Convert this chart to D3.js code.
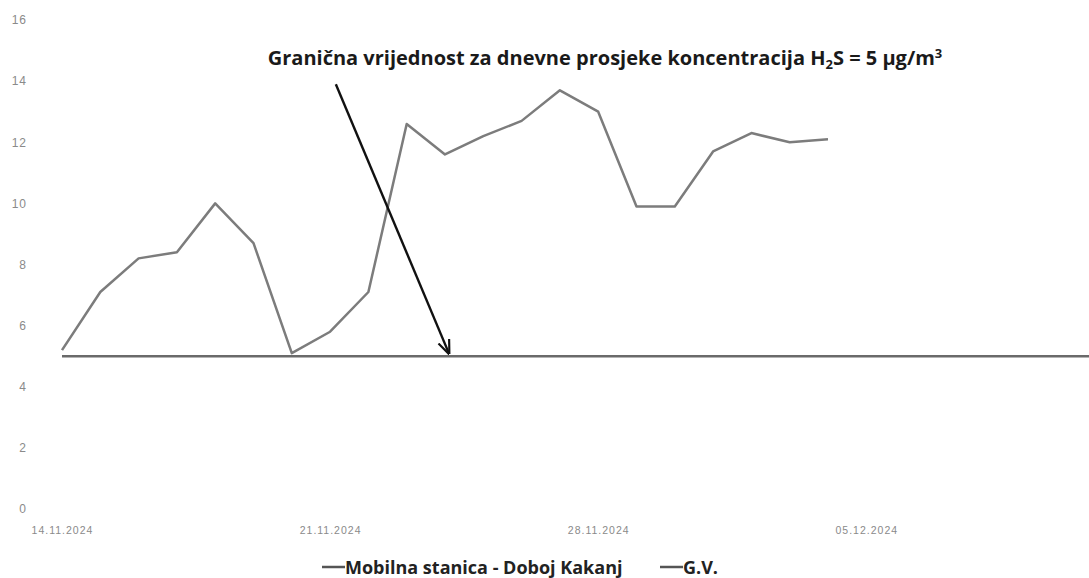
<!DOCTYPE html>
<html>
<head>
<meta charset="utf-8">
<script src="https://cdn.jsdelivr.net/npm/d3@7"></script>
<style>
  body { margin: 0; background: #fff; }
  svg { display: block; }
  .tick text { font-family: "Liberation Sans", sans-serif; fill: #8a8a8a; letter-spacing: 1px; }
  .y-axis .tick text { font-size: 12px; }
  .x-axis .tick text { font-size: 10.5px; }
</style>
</head>
<body>
<svg width="1089" height="578"></svg>
<script>
// daily H2S averages, Mobilna stanica - Doboj Kakanj, 14.11.2024 - 04.12.2024
const startDay = "2024-11-14";
const stationValues = [5.2, 7.1, 8.2, 8.4, 10.0, 8.7, 5.1, 5.8, 7.1, 12.6, 11.6, 12.2, 12.7, 13.7, 13.0, 9.9, 9.9, 11.7, 12.3, 12.0, 12.1];
const limitValue = 5;
const limitDays = 27;
const yTicks = [0, 2, 4, 6, 8, 10, 12, 14, 16];
const xTickDates = ["2024-11-14", "2024-11-21", "2024-11-28", "2024-12-05"];
const titleParts = ["Granična vrijednost za dnevne prosjeke koncentracija H", "2", "S = 5 µg/m", "3"];
const legendLabels = ["Mobilna stanica - Doboj Kakanj", "G.V."];
// arrow annotation in data space: [day offset, value]
const arrowFrom = [7.15, 13.9];
const arrowTo = [10.1, 5.1];

const parse = d3.utcParse("%Y-%m-%d");
const fmt = d3.utcFormat("%d.%m.%Y");
const day0 = parse(startDay);
const addDays = n => d3.utcDay.offset(day0, n);
const station = stationValues.map((v, i) => ({date: addDays(i), value: v}));
const limit = d3.range(limitDays + 1).map(i => ({date: addDays(i), value: limitValue}));

const svg = d3.select("svg");
const x = d3.scaleUtc().domain([day0, addDays(limitDays)]).range([62, 62 + limitDays * 38.3]);
const y = d3.scaleLinear().domain([0, 16]).range([509, 20]);

svg.append("g")
  .attr("class", "y-axis")
  .attr("transform", "translate(27,0)")
  .call(d3.axisLeft(y).tickValues(yTicks).tickSize(0).tickPadding(0))
  .call(g => g.select(".domain").remove());

svg.append("g")
  .attr("class", "x-axis")
  .attr("transform", "translate(0,527)")
  .call(d3.axisBottom(x).tickValues(xTickDates.map(parse)).tickFormat(fmt).tickSize(0).tickPadding(0))
  .call(g => g.select(".domain").remove());

const line = d3.line().x(d => x(d.date)).y(d => y(d.value));

svg.append("path")
  .datum(limit)
  .attr("fill", "none")
  .attr("stroke", "#6a6a6a")
  .attr("stroke-width", 2.5)
  .attr("d", line);

svg.append("path")
  .datum(station)
  .attr("fill", "none")
  .attr("stroke", "#7c7c7c")
  .attr("stroke-width", 2.5)
  .attr("stroke-linejoin", "round")
  .attr("d", line);

// arrow
svg.append("defs").append("marker")
  .attr("id", "head")
  .attr("viewBox", "0 0 10 10")
  .attr("refX", 9).attr("refY", 5)
  .attr("markerWidth", 6).attr("markerHeight", 8)
  .attr("orient", "auto")
  .append("path")
  .attr("d", "M0,1 L10,5 L0,9")
  .attr("fill", "none")
  .attr("stroke", "#111")
  .attr("stroke-width", 1.5);

svg.append("line")
  .attr("x1", x(addDays(0)) + arrowFrom[0] * 38.3)
  .attr("y1", y(arrowFrom[1]))
  .attr("x2", x(addDays(0)) + arrowTo[0] * 38.3)
  .attr("y2", y(arrowTo[1]))
  .attr("stroke", "#111")
  .attr("stroke-width", 2.4)
  .attr("marker-end", "url(#head)");

// title
const title = svg.append("text")
  .attr("x", 605)
  .attr("y", 65)
  .attr("text-anchor", "middle")
  .style("font-family", "'Open Sans', sans-serif")
  .style("font-weight", "bold")
  .style("font-size", "20px")
  .attr("fill", "#1a1a1a");
title.append("tspan").text(titleParts[0]);
title.append("tspan").attr("dy", 4).style("font-size", "13px").text(titleParts[1]);
title.append("tspan").attr("dy", -4).text(titleParts[2]);
title.append("tspan").attr("dy", -7).style("font-size", "13px").text(titleParts[3]);

// legend
const legendX = [322, 660];
const legend = svg.append("g").selectAll("g")
  .data(legendLabels)
  .join("g")
  .attr("transform", (d, i) => `translate(${legendX[i]},574)`);
legend.append("line")
  .attr("x1", 0).attr("x2", 23).attr("y1", -7).attr("y2", -7)
  .attr("stroke", "#555")
  .attr("stroke-width", 2.5);
legend.append("text")
  .attr("x", 23)
  .text(d => d)
  .style("font-family", "'Open Sans', sans-serif")
  .style("font-weight", "bold")
  .style("font-size", "18px")
  .attr("fill", "#222");
</script>
</body>
</html>
